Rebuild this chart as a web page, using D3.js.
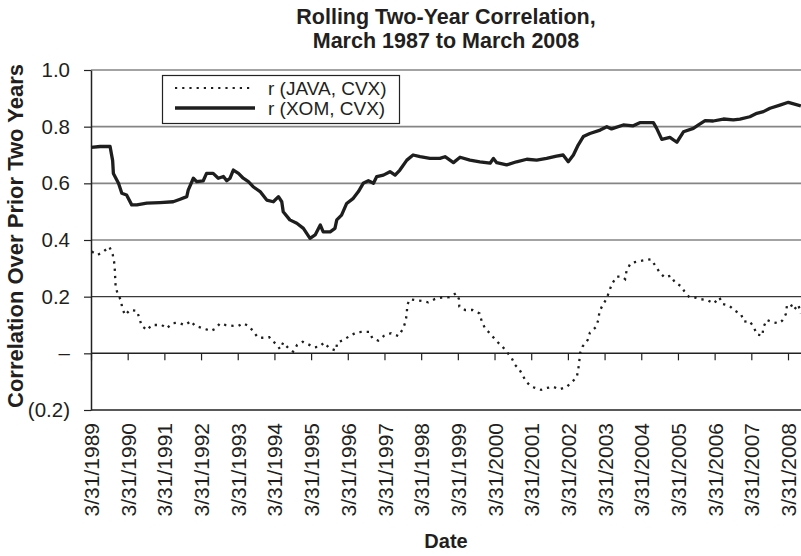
<!DOCTYPE html>
<html>
<head>
<meta charset="utf-8">
<script src="https://cdn.jsdelivr.net/npm/d3@7"></script>
<style>
  body { margin: 0; background: #fff; }
  svg { display: block; font-family: "Liberation Sans", Arial, Helvetica, sans-serif; fill: #231f20; }
</style>
</head>
<body>
<svg id="chart" width="801" height="556"></svg>
<script>
'use strict';

// x positions are decimal years, labels sit on 3/31 of each year
var yearTicks = [1989.25, 1990.25, 1991.25, 1992.25, 1993.25, 1994.25, 1995.25, 1996.25, 1997.25, 1998.25,
                 1999.25, 2000.25, 2001.25, 2002.25, 2003.25, 2004.25, 2005.25, 2006.25, 2007.25, 2008.25];
var dateLabels = ['3/31/1989', '3/31/1990', '3/31/1991', '3/31/1992', '3/31/1993', '3/31/1994', '3/31/1995',
                  '3/31/1996', '3/31/1997', '3/31/1998', '3/31/1999', '3/31/2000', '3/31/2001', '3/31/2002',
                  '3/31/2003', '3/31/2004', '3/31/2005', '3/31/2006', '3/31/2007', '3/31/2008'];
var yTicks      = [-0.2, 0, 0.2, 0.4, 0.6, 0.8, 1.0];
var yTickLabels = ['(0.2)', '\u2013', '0.2', '0.4', '0.6', '0.8', '1.0'];
var seriesNames = ['r (JAVA, CVX)', 'r (XOM, CVX)'];

// r (XOM, CVX)
var xomYears = [1989.25, 1989.50, 1989.77, 1989.84, 1989.86, 1990.00, 1990.09, 1990.22, 1990.36, 1990.50,
  1990.77, 1991.13, 1991.49, 1991.68, 1991.86, 1991.90, 1992.04, 1992.13, 1992.31, 1992.40, 1992.58, 1992.72,
  1992.86, 1992.95, 1993.04, 1993.13, 1993.27, 1993.40, 1993.54, 1993.67, 1993.86, 1994.04, 1994.22, 1994.36,
  1994.45, 1994.49, 1994.67, 1994.86, 1995.04, 1995.22, 1995.36, 1995.50, 1995.58, 1995.77, 1995.90, 1995.95,
  1996.08, 1996.22, 1996.40, 1996.54, 1996.67, 1996.81, 1996.95, 1997.04, 1997.22, 1997.40, 1997.54, 1997.67,
  1997.86, 1998.03, 1998.22, 1998.49, 1998.76, 1998.90, 1999.13, 1999.31, 1999.58, 1999.85, 2000.13, 2000.22,
  2000.31, 2000.58, 2000.85, 2001.13, 2001.40, 2001.67, 2001.94, 2002.12, 2002.26, 2002.40, 2002.53, 2002.67,
  2002.85, 2003.13, 2003.31, 2003.44, 2003.76, 2004.03, 2004.21, 2004.58, 2004.67, 2004.81, 2005.03, 2005.22,
  2005.40, 2005.67, 2005.81, 2005.99, 2006.21, 2006.49, 2006.76, 2006.94, 2007.21, 2007.40, 2007.58, 2007.76,
  2008.03, 2008.26, 2008.60];
var xomValues = [0.727, 0.730, 0.730, 0.680, 0.635, 0.600, 0.565, 0.559, 0.524, 0.524,
  0.530, 0.532, 0.535, 0.544, 0.553, 0.576, 0.618, 0.606, 0.609, 0.635, 0.635, 0.618,
  0.624, 0.609, 0.618, 0.647, 0.635, 0.618, 0.606, 0.588, 0.571, 0.541, 0.535, 0.553,
  0.535, 0.500, 0.471, 0.459, 0.441, 0.406, 0.418, 0.453, 0.429, 0.429, 0.441, 0.471,
  0.488, 0.529, 0.547, 0.571, 0.600, 0.609, 0.600, 0.624, 0.629, 0.641, 0.629, 0.647,
  0.682, 0.700, 0.694, 0.688, 0.688, 0.694, 0.673, 0.692, 0.682, 0.676, 0.671, 0.688,
  0.673, 0.665, 0.676, 0.685, 0.682, 0.688, 0.696, 0.700, 0.676, 0.700, 0.735, 0.765,
  0.776, 0.788, 0.800, 0.792, 0.806, 0.803, 0.814, 0.814, 0.794, 0.755, 0.762, 0.745,
  0.782, 0.794, 0.806, 0.821, 0.820, 0.827, 0.824, 0.827, 0.835, 0.847, 0.853, 0.865,
  0.876, 0.886, 0.873];

// r (JAVA, CVX)
var javaYears = [1989.27, 1989.43, 1989.59, 1989.75, 1989.84, 1989.88, 1989.90, 1989.91, 1989.92, 1989.97,
  1990.07, 1990.10, 1990.18, 1990.31, 1990.50, 1990.57, 1990.63, 1990.78, 1990.90, 1991.04, 1991.18, 1991.31,
  1991.47, 1991.63, 1991.81, 1991.98, 1992.08, 1992.22, 1992.38, 1992.51, 1992.63, 1992.77, 1992.92, 1993.13,
  1993.27, 1993.40, 1993.54, 1993.67, 1993.79, 1993.93, 1994.11, 1994.18, 1994.31, 1994.40, 1994.49, 1994.63,
  1994.76, 1994.87, 1995.02, 1995.17, 1995.34, 1995.49, 1995.60, 1995.75, 1995.93, 1995.96, 1996.13, 1996.31,
  1996.49, 1996.67, 1996.84, 1996.92, 1997.08, 1997.24, 1997.43, 1997.63, 1997.76, 1997.83, 1997.86, 1997.87,
  1997.95, 1998.08, 1998.26, 1998.44, 1998.63, 1998.81, 1999.02, 1999.20, 1999.28, 1999.29, 1999.45, 1999.65,
  1999.84, 1999.90, 1999.99, 2000.15, 2000.29, 2000.45, 2000.58, 2000.72, 2000.81, 2000.92, 2001.01, 2001.11,
  2001.26, 2001.38, 2001.52, 2001.65, 2001.84, 2002.03, 2002.22, 2002.35, 2002.49, 2002.53, 2002.56, 2002.58,
  2002.65, 2002.79, 2002.85, 2003.01, 2003.08, 2003.11, 2003.20, 2003.31, 2003.38, 2003.46, 2003.58, 2003.72,
  2003.81, 2003.85, 2003.96, 2004.14, 2004.35, 2004.51, 2004.62, 2004.74, 2004.88, 2005.05, 2005.17, 2005.32,
  2005.42, 2005.56, 2005.71, 2005.88, 2006.05, 2006.23, 2006.38, 2006.47, 2006.65, 2006.81, 2006.97, 2007.05,
  2007.20, 2007.32, 2007.40, 2007.55, 2007.58, 2007.67, 2007.82, 2007.99, 2008.09, 2008.19, 2008.22, 2008.32,
  2008.41, 2008.53, 2008.60];
var javaValues = [0.359, 0.347, 0.359, 0.376, 0.350, 0.323, 0.294, 0.265, 0.238, 0.212,
  0.186, 0.159, 0.135, 0.153, 0.150, 0.124, 0.097, 0.082, 0.100, 0.100, 0.100, 0.088,
  0.106, 0.108, 0.100, 0.114, 0.097, 0.092, 0.085, 0.079, 0.086, 0.106, 0.100, 0.097,
  0.097, 0.106, 0.097, 0.079, 0.057, 0.055, 0.057, 0.045, 0.032, 0.015, 0.038, 0.018,
  0.006, 0.030, 0.041, 0.032, 0.021, 0.024, 0.038, 0.018, 0.010, 0.038, 0.047, 0.062,
  0.074, 0.076, 0.076, 0.053, 0.045, 0.062, 0.071, 0.061, 0.088, 0.115, 0.143, 0.171,
  0.191, 0.188, 0.185, 0.180, 0.192, 0.197, 0.198, 0.212, 0.192, 0.165, 0.153, 0.153,
  0.141, 0.114, 0.088, 0.067, 0.045, 0.026, 0.006, -0.017, -0.041, -0.055, -0.076, -0.100,
  -0.118, -0.123, -0.129, -0.123, -0.118, -0.127, -0.118, -0.102, -0.085, -0.059, -0.029, 0.000,
  0.024, 0.047, 0.073, 0.092, 0.118, 0.147, 0.171, 0.194, 0.221, 0.247, 0.271, 0.271,
  0.262, 0.292, 0.318, 0.324, 0.329, 0.332, 0.312, 0.288, 0.268, 0.274, 0.250, 0.238,
  0.220, 0.198, 0.197, 0.191, 0.188, 0.176, 0.197, 0.174, 0.168, 0.150, 0.138, 0.112,
  0.114, 0.092, 0.067, 0.062, 0.092, 0.118, 0.110, 0.106, 0.115, 0.138, 0.167, 0.174,
  0.153, 0.172, 0.141];

var plotLeft = 91, plotRight = 801;

var svg = d3.select('#chart');

var x = d3.scaleLinear().domain([1989.25, 2008.25]).range([91, 788]);
var y = d3.scaleLinear().domain([-0.2, 1.0]).range([410, 70]);

function toPoints(years, values) {
  return years.map(function (d, i) { return { year: d, value: values[i] }; });
}

// horizontal gridlines
svg.append('g').attr('class', 'grid')
  .selectAll('line')
  .data(yTicks.filter(function (d) { return d > 0; }))
  .enter().append('line')
    .attr('x1', plotLeft).attr('x2', plotRight)
    .attr('y1', function (d) { return y(d); })
    .attr('y2', function (d) { return y(d); })
    .attr('stroke', function (d) { return d < 0.3 ? '#3a3a3a' : '#858585'; })
    .attr('stroke-width', function (d) { return d < 0.3 ? 1.2 : 1.6; });

// bottom frame line at -0.2
svg.append('line')
  .attr('x1', plotLeft).attr('x2', plotRight)
  .attr('y1', y(-0.2)).attr('y2', y(-0.2))
  .attr('stroke', '#222').attr('stroke-width', 1.5);

// y axis
var yAxis = svg.append('g')
  .attr('transform', 'translate(' + plotLeft + ',0)')
  .call(d3.axisLeft(y)
    .tickValues(yTicks)
    .tickSize(7)
    .tickSizeOuter(0)
    .tickPadding(14)
    .tickFormat(function (d, i) { return yTickLabels[i]; }));
yAxis.select('.domain').attr('stroke', '#222').attr('stroke-width', 1.5);
yAxis.selectAll('.tick line').attr('stroke', '#222').attr('stroke-width', 1.2);
yAxis.selectAll('text')
  .attr('font-size', 20.5)
  .attr('font-family', '"Liberation Sans", Arial, sans-serif')
  .attr('fill', '#231f20');

// x axis at zero, ticks only
var xZero = svg.append('g')
  .attr('transform', 'translate(0,' + y(0) + ')')
  .call(d3.axisBottom(x).tickValues(yearTicks).tickSize(7).tickSizeOuter(0).tickFormat(''));
xZero.select('.domain').attr('d', 'M' + plotLeft + ',0H' + plotRight)
  .attr('stroke', '#222').attr('stroke-width', 1.5);
xZero.selectAll('.tick line').attr('stroke', '#222').attr('stroke-width', 1.2);

// date labels under the plot
var xLabels = svg.append('g')
  .attr('transform', 'translate(0,' + y(-0.2) + ')')
  .call(d3.axisBottom(x).tickValues(yearTicks).tickSize(0)
    .tickFormat(function (d, i) { return dateLabels[i]; }));
xLabels.select('.domain').remove();
xLabels.selectAll('text')
  .attr('transform', 'rotate(-90)')
  .attr('text-anchor', 'end')
  .attr('x', -13)
  .attr('y', 0)
  .attr('dy', '0.36em')
  .attr('font-size', 21)
  .attr('font-family', '"Liberation Sans", Arial, sans-serif')
  .attr('fill', '#231f20');

var line = d3.line()
  .x(function (d) { return x(d.year); })
  .y(function (d) { return y(d.value); });

svg.append('path')
  .datum(toPoints(xomYears, xomValues))
  .attr('d', line)
  .attr('fill', 'none')
  .attr('stroke', '#1e1e1e')
  .attr('stroke-width', 3.3)
  .attr('stroke-linejoin', 'round');

svg.append('path')
  .datum(toPoints(javaYears, javaValues))
  .attr('d', line)
  .attr('fill', 'none')
  .attr('stroke', '#1e1e1e')
  .attr('stroke-width', 2.3)
  .attr('stroke-dasharray', '2.3,5');

// legend
var legend = svg.append('g').attr('class', 'legend');
legend.append('rect')
  .attr('x', 162.5).attr('y', 75.5)
  .attr('width', 237).attr('height', 48)
  .attr('fill', '#fff').attr('stroke', '#222').attr('stroke-width', 1.2);
legend.append('line')
  .attr('x1', 175).attr('x2', 253).attr('y1', 88).attr('y2', 88)
  .attr('stroke', '#1e1e1e').attr('stroke-width', 2.2).attr('stroke-dasharray', '2.2,5');
legend.append('line')
  .attr('x1', 175).attr('x2', 255).attr('y1', 108).attr('y2', 108)
  .attr('stroke', '#1e1e1e').attr('stroke-width', 3.3);
legend.selectAll('text')
  .data(seriesNames)
  .enter().append('text')
    .attr('x', 268)
    .attr('y', function (d, i) { return 95 + i * 20; })
    .attr('font-size', 19)
    .text(function (d) { return d; });

// titles
svg.append('text')
  .attr('x', 446).attr('y', 24)
  .attr('text-anchor', 'middle')
  .attr('font-size', 21.5).attr('font-weight', 'bold')
  .text('Rolling Two-Year Correlation,');
svg.append('text')
  .attr('x', 446).attr('y', 48)
  .attr('text-anchor', 'middle')
  .attr('font-size', 21.5).attr('font-weight', 'bold')
  .text('March 1987 to March 2008');

svg.append('text')
  .attr('transform', 'translate(23,236) rotate(-90)')
  .attr('text-anchor', 'middle')
  .attr('font-size', 22).attr('font-weight', 'bold')
  .text('Correlation Over Prior Two Years');

svg.append('text')
  .attr('x', 446).attr('y', 548)
  .attr('text-anchor', 'middle')
  .attr('font-size', 20).attr('font-weight', 'bold')
  .text('Date');
</script>
</body>
</html>
